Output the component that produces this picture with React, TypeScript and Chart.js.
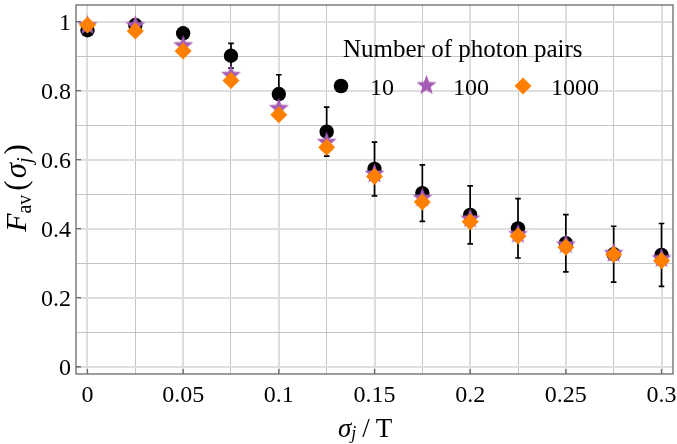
import React, { useEffect, useRef } from "react";
import { Chart, registerables } from "chart.js";

Chart.register(...registerables);

// ---- data ----
const sigmaValues = [0, 0.025, 0.05, 0.075, 0.1, 0.125, 0.15, 0.175, 0.2, 0.225, 0.25, 0.275, 0.3];
const fidelity10 = [0.975, 0.99, 0.966, 0.901, 0.79, 0.681, 0.573, 0.503, 0.44, 0.401, 0.358, 0.326, 0.324];
const error10 = [0.006, 0.006, 0.016, 0.036, 0.056, 0.071, 0.078, 0.082, 0.084, 0.086, 0.083, 0.081, 0.091];
const fidelity100 = [0.99, 0.99, 0.932, 0.846, 0.75, 0.652, 0.56, 0.49, 0.43, 0.385, 0.355, 0.33, 0.315];
const fidelity1000 = [0.99, 0.973, 0.915, 0.829, 0.73, 0.636, 0.551, 0.477, 0.42, 0.379, 0.346, 0.325, 0.307];

const seriesLabels = ["10", "100", "1000"];
const legendTitle = "Number of photon pairs";

const xGridValues = [0, 0.025, 0.05, 0.075, 0.1, 0.125, 0.15, 0.175, 0.2, 0.225, 0.25, 0.275, 0.3];
const xMajorValues = [0, 0.05, 0.1, 0.15, 0.2, 0.25, 0.3];
const xTickLabels = ["0", "0.05", "0.1", "0.15", "0.2", "0.25", "0.3"];
const yGridValues = [0, 0.1, 0.2, 0.3, 0.4, 0.5, 0.6, 0.7, 0.8, 0.9, 1];
const yMajorValues = [0, 0.2, 0.4, 0.6, 0.8, 1];
const yTickLabels = ["0", "0.2", "0.4", "0.6", "0.8", "1"];

const SERIF = "'Liberation Serif', serif";
const PURPLE = "#a65cb5";
const ORANGE = "#ff8000";

function isMajor(list: number[], v: number) {
  return list.some((m) => Math.abs(m - v) < 1e-9);
}

function makeStar(R: number, color: string) {
  const size = Math.ceil(R * 2 + 2);
  const c = document.createElement("canvas");
  c.width = size;
  c.height = size;
  const g = c.getContext("2d")!;
  const cx = size / 2;
  const cy = size / 2 + R * 0.05;
  const r = R * 0.42;
  g.beginPath();
  for (let i = 0; i < 10; i++) {
    const ang = -Math.PI / 2 + (i * Math.PI) / 5;
    const rad = i % 2 === 0 ? R : r;
    const px = cx + rad * Math.cos(ang);
    const py = cy + rad * Math.sin(ang);
    if (i === 0) g.moveTo(px, py);
    else g.lineTo(px, py);
  }
  g.closePath();
  g.fillStyle = color;
  g.fill();
  return c;
}

type Piece = { t: string; f: string; dy: number; gap?: number };

export default function App() {
  const ref = useRef<HTMLCanvasElement | null>(null);

  useEffect(() => {
    const canvas = ref.current;
    if (!canvas) return;
    const star = makeStar(10.5, PURPLE);

    const errorBars = {
      id: "errorBars",
      beforeDatasetsDraw(chart: any) {
        const { ctx } = chart;
        const xs = chart.scales.x;
        const ys = chart.scales.y;
        ctx.save();
        ctx.strokeStyle = "#000";
        ctx.lineWidth = 1.7;
        sigmaValues.forEach((s, i) => {
          const px = xs.getPixelForValue(s);
          const top = ys.getPixelForValue(fidelity10[i] + error10[i]);
          const bot = ys.getPixelForValue(fidelity10[i] - error10[i]);
          ctx.beginPath();
          ctx.moveTo(px, top);
          ctx.lineTo(px, bot);
          ctx.moveTo(px - 2.8, top);
          ctx.lineTo(px + 2.8, top);
          ctx.moveTo(px - 2.8, bot);
          ctx.lineTo(px + 2.8, bot);
          ctx.stroke();
        });
        ctx.restore();
      },
    };

    const decorations = {
      id: "decorations",
      afterDraw(chart: any) {
        const { ctx, chartArea } = chart;
        const xs = chart.scales.x;
        const ys = chart.scales.y;
        ctx.save();
        // frame
        ctx.strokeStyle = "#6a6a6a";
        ctx.lineWidth = 1.3;
        ctx.strokeRect(chartArea.left, chartArea.top, chartArea.right - chartArea.left, chartArea.bottom - chartArea.top);
        // tick marks
        ctx.beginPath();
        xMajorValues.forEach((v) => {
          const px = xs.getPixelForValue(v);
          ctx.moveTo(px, chartArea.bottom);
          ctx.lineTo(px, chartArea.bottom - 5);
        });
        yMajorValues.forEach((v) => {
          const py = ys.getPixelForValue(v);
          ctx.moveTo(chartArea.left, py);
          ctx.lineTo(chartArea.left + 5, py);
        });
        ctx.stroke();

        // tick labels (positioned by the chart's scales)
        ctx.fillStyle = "#000";
        ctx.font = `24px ${SERIF}`;
        ctx.textBaseline = "alphabetic";
        ctx.textAlign = "center";
        xMajorValues.forEach((v, i) => {
          ctx.fillText(xTickLabels[i], xs.getPixelForValue(v), chartArea.bottom + 27.5);
        });
        ctx.textAlign = "right";
        yMajorValues.forEach((v, i) => {
          ctx.fillText(yTickLabels[i], chartArea.left - 5, ys.getPixelForValue(v) + 8);
        });

        ctx.textAlign = "left";
        const measurePieces = (pieces: Piece[]) => {
          let w = 0;
          pieces.forEach((p) => {
            ctx.font = p.f;
            w += ctx.measureText(p.t).width + (p.gap || 0);
          });
          return w;
        };
        const drawPieces = (pieces: Piece[], x: number, y: number) => {
          let cx = x;
          pieces.forEach((p) => {
            ctx.font = p.f;
            ctx.fillText(p.t, cx, y + p.dy);
            cx += ctx.measureText(p.t).width + (p.gap || 0);
          });
        };

        // y-axis title
        const yPieces: Piece[] = [
          { t: "F", f: `italic 30px ${SERIF}`, dy: 0, gap: 0 },
          { t: "av", f: `20px ${SERIF}`, dy: 5, gap: 4 },
          { t: "(", f: `31px ${SERIF}`, dy: 0, gap: 2 },
          { t: "σ", f: `italic 31px ${SERIF}`, dy: 0, gap: 0 },
          { t: "j", f: `italic 20px ${SERIF}`, dy: 5, gap: 3 },
          { t: ")", f: `31px ${SERIF}`, dy: 0, gap: 0 },
        ];
        ctx.save();
        ctx.translate(26, 188);
        ctx.rotate(-Math.PI / 2);
        const yw = measurePieces(yPieces);
        drawPieces(yPieces, -yw / 2, 0);
        ctx.restore();

        // x-axis title
        const xPieces: Piece[] = [
          { t: "σ", f: `italic 27px ${SERIF}`, dy: 0, gap: 0 },
          { t: "j", f: `italic 18px ${SERIF}`, dy: 2, gap: 6 },
          { t: "/", f: `27px ${SERIF}`, dy: 0, gap: 6 },
          { t: "T", f: `27px ${SERIF}`, dy: 0, gap: 0 },
        ];
        drawPieces(xPieces, 338, 437);

        // legend
        ctx.font = `25px ${SERIF}`;
        ctx.fillText(legendTitle, 343, 57);
        ctx.beginPath();
        ctx.arc(341, 86, 7.3, 0, Math.PI * 2);
        ctx.fillStyle = "#000";
        ctx.fill();
        ctx.drawImage(star, 426.5 - star.width / 2, 85 - star.height / 2);
        ctx.beginPath();
        ctx.moveTo(523, 86 - 8.5);
        ctx.lineTo(523 + 8.5, 86);
        ctx.lineTo(523, 86 + 8.5);
        ctx.lineTo(523 - 8.5, 86);
        ctx.closePath();
        ctx.fillStyle = ORANGE;
        ctx.fill();
        ctx.fillStyle = "#000";
        ctx.font = `24px ${SERIF}`;
        ctx.fillText(seriesLabels[0], 370, 95);
        ctx.fillText(seriesLabels[1], 453, 95);
        ctx.fillText(seriesLabels[2], 551, 95);
        ctx.restore();
      },
    };

    const toPts = (ys: number[]) => sigmaValues.map((x, i) => ({ x, y: ys[i] }));

    const chart = new Chart(canvas, {
      type: "scatter",
      data: {
        datasets: [
          {
            label: seriesLabels[0],
            data: toPts(fidelity10),
            pointStyle: "circle",
            pointRadius: 7.2,
            backgroundColor: "#000",
            borderColor: "#000",
            borderWidth: 0,
            order: 3,
          },
          {
            label: seriesLabels[1],
            data: toPts(fidelity100),
            pointStyle: star as any,
            pointRadius: 10,
            backgroundColor: PURPLE,
            borderColor: PURPLE,
            order: 2,
          },
          {
            label: seriesLabels[2],
            data: toPts(fidelity1000),
            pointStyle: "rectRot",
            pointRadius: 8.5,
            backgroundColor: ORANGE,
            borderColor: ORANGE,
            borderWidth: 0,
            order: 1,
          },
        ],
      },
      options: {
        responsive: false,
        animation: false,
        events: [],
        layout: { autoPadding: false, padding: { top: 5, right: 4, left: 0, bottom: 0 } },
        plugins: {
          legend: { display: false },
          tooltip: { enabled: false },
          title: { display: false },
        },
        scales: {
          x: {
            type: "linear",
            min: -0.006,
            max: 0.306,
            afterBuildTicks: (scale: any) => {
              scale.ticks = xGridValues.map((v) => ({ value: v }));
            },
            afterFit: (scale: any) => {
              scale.height = 70;
            },
            ticks: { display: false },
            grid: {
              drawTicks: false,
              color: (ctx: any) => (isMajor(xMajorValues, ctx.tick?.value ?? -1) ? "#dedede" : "#c4c4c4"),
              lineWidth: (ctx: any) => (isMajor(xMajorValues, ctx.tick?.value ?? -1) ? 2 : 1),
            },
            border: { display: false },
          },
          y: {
            type: "linear",
            min: -0.021,
            max: 1.048,
            afterBuildTicks: (scale: any) => {
              scale.ticks = yGridValues.map((v) => ({ value: v }));
            },
            afterFit: (scale: any) => {
              scale.width = 76;
            },
            ticks: { display: false },
            grid: {
              drawTicks: false,
              color: (ctx: any) => (isMajor(yMajorValues, ctx.tick?.value ?? -1) ? "#dedede" : "#c4c4c4"),
              lineWidth: (ctx: any) => (isMajor(yMajorValues, ctx.tick?.value ?? -1) ? 2 : 1),
            },
            border: { display: false },
          },
        },
      },
      plugins: [errorBars, decorations],
    });

    return () => chart.destroy();
  }, []);

  return (
    <div style={{ position: "fixed", left: 0, top: 0, width: 677, height: 444, background: "#fff" }}>
      <canvas ref={ref} width={677} height={444} style={{ width: 677, height: 444, display: "block" }} />
    </div>
  );
}
